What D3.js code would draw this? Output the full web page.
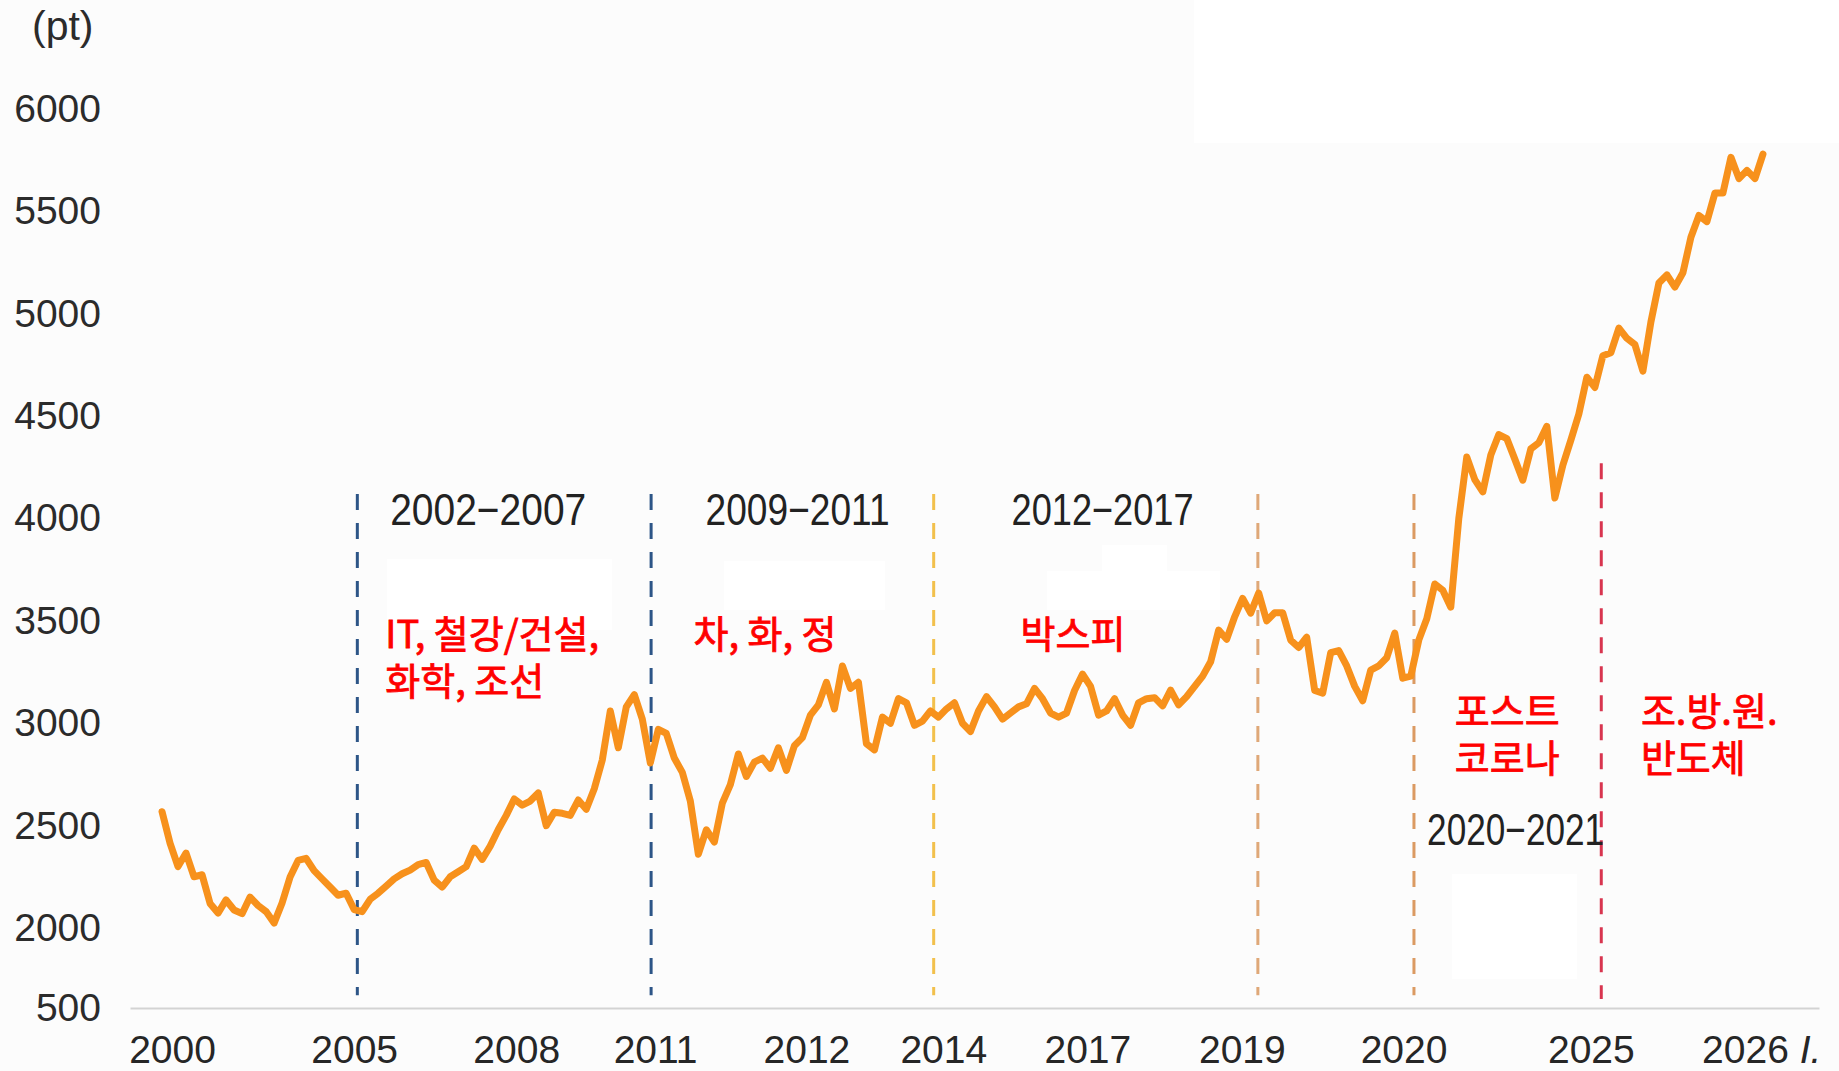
<!DOCTYPE html>
<html>
<head>
<meta charset="utf-8">
<script src="https://cdn.jsdelivr.net/npm/d3@7"></script>
<style>
  body { margin: 0; background: #fcfcfc; }
  svg { display: block; }
</style>
</head>
<body>
<svg width="1839" height="1071"></svg>
<script>
const WIDTH = 1839
const HEIGHT = 1071

// index level at even steps along the time axis
const kospi = [
  2568, 2415, 2300, 2366, 2250, 2260, 2120, 2073, 2137, 2088,
  2070, 2151, 2110, 2080, 2024, 2122, 2249, 2330, 2340, 2280,
  2240, 2200, 2160, 2170, 2090, 2080, 2140, 2170, 2205, 2240,
  2265, 2283, 2310, 2320, 2234, 2200, 2250, 2275, 2300, 2390,
  2335, 2400, 2480, 2550, 2630, 2600, 2620, 2660, 2500, 2565,
  2560, 2550, 2625, 2580, 2680, 2820, 3060, 2880, 3080, 3140,
  3020, 2806, 2970, 2950, 2830, 2760, 2620, 2360, 2480, 2420,
  2610, 2700, 2850, 2740, 2810, 2830, 2780, 2880, 2770, 2890,
  2930, 3040, 3090, 3200, 3070, 3280, 3170, 3200, 2900, 2870,
  3030, 3000, 3120, 3100, 2990, 3010, 3060, 3030, 3070, 3100,
  3000, 2960, 3060, 3130, 3080, 3020, 3050, 3080, 3095, 3170,
  3120, 3050, 3030, 3050, 3160, 3240, 3180, 3040, 3060, 3120,
  3040, 2990, 3100, 3120, 3125, 3085, 3162, 3090, 3130, 3180,
  3230, 3300, 3455, 3410, 3520, 3610, 3538, 3636, 3500, 3540,
  3540, 3406, 3370, 3420, 3160, 3147, 3345, 3355, 3280, 3180,
  3110, 3260, 3280, 3320, 3440, 3220, 3230, 3406, 3510, 3680,
  3650, 3567, 4000, 4300, 4190, 4130, 4310, 4410, 4390, 4290,
  4187, 4340, 4370, 4450, 4100, 4260, 4383, 4510, 4690, 4640,
  4795, 4810, 4930, 4880, 4850, 4720, 4960, 5150, 5190, 5130,
  5200, 5374, 5480, 5450, 5590, 5590, 5764, 5660, 5700, 5660,
  5780
]

const yTicks = [500, 2000, 2500, 3000, 3500, 4000, 4500, 5000, 5500, 6000]
const xTickLabels = ["2000", "2005", "2008", "2011", "2012", "2014", "2017", "2019", "2020", "2025", "2026"]
const xTickAt = [1.25, 24, 44.25, 61.6, 80.5, 97.6, 115.6, 134.9, 155.1, 178.5, 197.75]

// dashed era separators (position on the time axis, top value)
const eraAt = [24.4, 61.1, 96.4, 136.9, 156.4, 179.8]
const eraTop = [4120, 4120, 4120, 4120, 4120, 4270]
const eraColors = ["#2d5587", "#2d5587", "#f2c04c", "#dfa878", "#db9a62", "#d8354f"]

const periodText = ["2002−2007", "2009−2011", "2012−2017", "2020−2021"]
const periodAt = [40.75, 79.4, 117.5, 169.1]
const periodValue = [4046, 4046, 4046, 2483]
const periodWidth = [196, 184, 182, 177]

const sectorText = [["IT, 철강/건설,", "화학, 조선"], ["차, 화, 정"], ["박스피"], ["포스트", "코로나"], ["조.방.원.", "반도체"]]
const sectorAt = [27.9, 66.4, 107.25, 161.5, 184.75]
const sectorValue = [3436, 3436, 3436, 3060, 3060]

const svg = d3.select("svg")

// faint white patches left over in the source picture
const patches = svg.append("g").attr("fill", "#ffffff")
patches.append("rect").attr("x", 1194).attr("y", 0).attr("width", 645).attr("height", 143)
patches.append("rect").attr("x", 387).attr("y", 559).attr("width", 225).attr("height", 71)
patches.append("rect").attr("x", 724).attr("y", 561).attr("width", 161).attr("height", 49)
patches.append("rect").attr("x", 1047).attr("y", 571).attr("width", 173).attr("height", 39)
patches.append("rect").attr("x", 1102).attr("y", 545).attr("width", 65).attr("height", 26)
patches.append("rect").attr("x", 1452).attr("y", 874).attr("width", 125).attr("height", 105)

const x = d3.scaleLinear().domain([-4, 207]).range([130, 1819])
// broken value axis: 500 sits just under 2000
const y = d3.scaleLinear().domain([500, 2000, 6000]).range([1008, 928, 109])

// x axis
const xAxis = svg.append("g")
  .attr("transform", "translate(0," + y(500) + ")")
  .call(d3.axisBottom(x)
    .tickValues(xTickAt)
    .tickFormat((d, i) => xTickLabels[i])
    .tickSize(0)
    .tickSizeOuter(0)
    .tickPadding(27))
xAxis.select(".domain").attr("stroke", "#d3d3d3").attr("stroke-width", 2)
xAxis.selectAll("text")
  .attr("font-family", "'Liberation Sans', Arial, sans-serif")
  .attr("font-size", 39)
  .attr("fill", "#262626")

// last label carries an italic "I."
const lastTick = xAxis.selectAll("text").filter((d, i) => i === xTickLabels.length - 1)
const w2026 = lastTick.node().getComputedTextLength()
lastTick.attr("text-anchor", "start").attr("x", -w2026 / 2)
lastTick.append("tspan").attr("font-style", "italic").text(" I.")

// y axis
const yAxis = svg.append("g")
  .attr("transform", "translate(101,0)")
  .call(d3.axisLeft(y).tickValues(yTicks).tickFormat(d3.format("d")).tickSize(0).tickPadding(0))
yAxis.select(".domain").remove()
yAxis.selectAll("text")
  .attr("font-family", "'Liberation Sans', Arial, sans-serif")
  .attr("font-size", 39)
  .attr("fill", "#2b2b2b")

svg.append("text")
  .attr("x", 32)
  .attr("y", 26)
  .attr("dy", "0.35em")
  .attr("font-family", "'Liberation Sans', Arial, sans-serif")
  .attr("font-size", 41)
  .attr("fill", "#2b2b2b")
  .text("(pt)")

// era separators
svg.append("g")
  .selectAll("line")
  .data(eraAt)
  .join("line")
  .attr("x1", d => x(d))
  .attr("x2", d => x(d))
  .attr("y1", (d, i) => y(eraTop[i]))
  .attr("y2", (d, i) => i === eraAt.length - 1 ? y(670) : y(740))
  .attr("stroke", (d, i) => eraColors[i])
  .attr("stroke-width", 3)
  .attr("stroke-dasharray", "16,13")

// index line
const line = d3.line()
  .x((d, i) => x(i))
  .y(d => y(d))

svg.append("path")
  .datum(kospi)
  .attr("d", line)
  .attr("fill", "none")
  .attr("stroke", "#f7911c")
  .attr("stroke-width", 7)
  .attr("stroke-linejoin", "round")
  .attr("stroke-linecap", "round")

// period labels
svg.append("g")
  .selectAll("text")
  .data(periodText)
  .join("text")
  .attr("x", (d, i) => x(periodAt[i]))
  .attr("y", (d, i) => y(periodValue[i]))
  .attr("dy", "0.36em")
  .attr("text-anchor", "middle")
  .attr("font-family", "'Liberation Sans', Arial, sans-serif")
  .attr("font-size", 44)
  .attr("fill", "#222")
  .attr("textLength", (d, i) => periodWidth[i])
  .attr("lengthAdjust", "spacingAndGlyphs")
  .text(d => d)

// sector labels in red
const sectors = svg.append("g")
  .selectAll("text")
  .data(sectorText)
  .join("text")
  .attr("x", (d, i) => x(sectorAt[i]))
  .attr("y", (d, i) => y(sectorValue[i]))
  .attr("font-family", "'Noto Sans CJK KR', 'Noto Sans', sans-serif")
  .attr("font-size", 38)
  .attr("fill", "#ff0000")
  .attr("stroke", "#ff0000")
  .attr("stroke-width", 0.8)

sectors.each(function(lines, i) {
  let t = d3.select(this)
  lines.forEach((s, k) => {
    t.append("tspan")
      .attr("x", x(sectorAt[i]))
      .attr("dy", k === 0 ? "0.36em" : "1.24em")
      .text(s)
  })
})
</script>
</body>
</html>
